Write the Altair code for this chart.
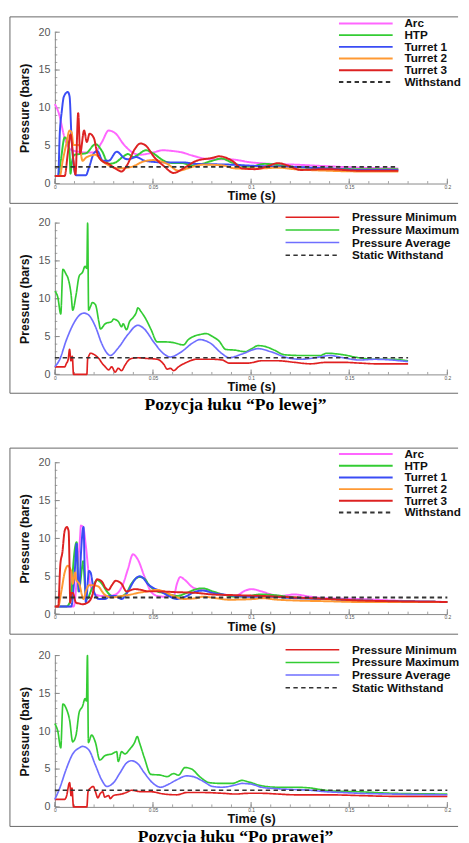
import altair as alt
import pandas as pd

FONT = "Liberation Sans"
W, H = 402, 155

# ---------------- axis tick values ----------------
X_MAJOR = [0, 0.05, 0.1, 0.15, 0.2]
X_MINOR = [i / 100 for i in range(21)]
Y_MAJOR = [0, 5, 10, 15, 20]
Y_MINOR = list(range(21))

# ---------------- legend names / colours ----------------
NAMES_A = ["Arc", "HTP", "Turret 1", "Turret 2", "Turret 3", "Withstand"]
COLORS_A = ["#ff66ff", "#33cc33", "#3a4cf5", "#ff9933", "#dd2222", "#333333"]
NAMES_B = ["Pressure Minimum", "Pressure Maximum", "Pressure Average", "Static Withstand"]
COLORS_B = ["#e02020", "#33cc33", "#6f6fff", "#333333"]
WITHSTAND = 2.2

CAPTION_1 = "Pozycja łuku “Po lewej”"
CAPTION_2 = "Pozycja łuku “Po prawej”"

# ---------------- panel 1 (left arc, locations) ----------------
p1_arc_t = [0, .002, .005, .008, .012, .016, .02, .024, .0274, .031, .035, .039, .043, .05, .055, .06, .065, .07, .08, .089, .1, .11, .122, .138, .155, .175]
p1_arc_v = [10.5, 9.3, 6.0, 4.5, 4.2, 4.1, 4.1, 5.5, 7.0, 6.6, 5.2, 4.2, 3.8, 4.1, 4.4, 4.3, 4.1, 3.7, 3.2, 3.2, 2.8, 2.6, 2.5, 2.3, 2.1, 2.0]
p1_htp_t = [0, .0017, .003, .005, .0066, .0075, .008, .0085, .01, .0124, .0158, .0207, .024, .0274, .031, .035, .0373, .04, .0423, .0464, .05, .0556, .06, .065, .07, .075, .08, .085, .09, .0987, .107, .115, .122, .138, .155, .175]
p1_htp_v = [1.0, 1.0, 3.0, 6.1, 5.5, 4.0, 1.3, 2.5, 3.8, 3.9, 4.0, 5.2, 4.3, 2.6, 2.8, 3.6, 3.9, 3.5, 3.8, 4.4, 4.0, 3.0, 2.7, 2.7, 2.4, 2.6, 3.0, 3.3, 2.8, 2.2, 2.6, 2.4, 2.2, 2.0, 1.9, 1.9]
p1_t1_t = [0, .0017, .0025, .0035, .0046, .0066, .0075, .0085, .0108, .0158, .0175, .0199, .0216, .0245, .0274, .0315, .0357, .0373, .0415, .046, .0556, .065, .072, .089, .1053, .122, .138, .155, .175]
p1_t1_v = [1.0, 1.0, 6.6, 9.5, 11.5, 12.1, 11.5, 6.0, 1.1, 1.1, 2.2, 4.0, 4.3, 3.0, 3.0, 4.2, 3.3, 3.2, 3.5, 3.0, 2.8, 2.8, 2.6, 2.5, 2.3, 2.2, 2.0, 1.8, 1.8]
p1_t2_t = [0, .0025, .004, .0058, .0075, .0085, .0095, .0124, .0141, .0158, .0182, .0207, .024, .029, .0323, .039, .045, .05, .0572, .063, .0688, .0755, .0854, .092, .1053, .1136, .1219, .1385, .155, .175]
p1_t2_v = [1.0, 1.0, 3.0, 5.2, 7.0, 6.8, 5.1, 5.1, 3.0, 3.4, 3.7, 3.8, 3.0, 2.2, 2.0, 2.2, 2.9, 3.1, 2.6, 1.7, 2.1, 2.5, 2.4, 2.0, 2.0, 2.1, 1.9, 1.7, 1.6, 1.6]
p1_t3_t = [0, .005, .0066, .008, .0095, .0105, .0119, .0129, .0149, .0163, .0177, .0199, .0216, .024, .0274, .0307, .034, .0365, .0406, .0436, .0464, .0506, .0556, .0605, .0655, .0721, .0804, .0837, .0904, .0954, .102, .1086, .1136, .1186, .1252, .1385, .155, .175]
p1_t3_v = [1.0, 1.0, 4.0, 6.5, 3.0, 1.2, 9.3, 4.0, 7.0, 5.5, 6.6, 6.0, 4.0, 3.0, 2.6, 2.0, 1.6, 2.3, 4.5, 5.3, 5.0, 3.5, 2.3, 1.4, 2.0, 3.0, 3.4, 3.6, 3.0, 2.0, 1.9, 2.3, 2.7, 2.4, 1.8, 1.9, 1.7, 1.7]
p1_ws_t = [0, .175]

# ---------------- panel 2 (left arc, summary) ----------------
p2_max_t = [0, .0015, .003, .0041, .0058, .0066, .0083, .0091, .0108, .0124, .0141, .0154, .0163, .0167, .0172, .0182, .0191, .0207, .0224, .0232, .0257, .029, .0299, .0323, .034, .0348, .0365, .0381, .0398, .0415, .0423, .0439, .0464, .0489, .0522, .0556, .0605, .0655, .068, .0705, .0746, .0771, .0804, .0837, .0871, .092, .097, .1003, .1036, .107, .1119, .1169, .1252, .1352, .1385, .1468, .1551, .1633, .1716, .18]
p2_max_v = [11.0, 10.2, 8.0, 13.9, 13.2, 12.8, 10.5, 8.5, 10.5, 13.0, 13.5, 14.3, 14.0, 20.0, 8.5, 9.0, 9.5, 9.2, 7.0, 6.0, 6.7, 7.0, 7.3, 7.0, 6.3, 6.7, 5.9, 7.0, 7.5, 8.2, 8.8, 8.3, 7.3, 6.0, 4.3, 4.3, 4.2, 3.9, 4.6, 5.0, 5.3, 5.4, 5.0, 4.4, 3.3, 3.2, 3.0, 3.4, 3.8, 3.7, 3.2, 2.6, 2.5, 2.5, 2.8, 2.6, 2.2, 2.0, 2.0, 1.8]
p2_avg_t = [0, .0025, .0058, .0091, .0124, .0149, .0174, .0207, .024, .0274, .0282, .0323, .0373, .0423, .0456, .0506, .0556, .0589, .064, .0705, .0738, .0788, .0854, .0887, .0954, .1036, .11, .1186, .125, .135, .14, .147, .155, .163, .18]
p2_avg_v = [1.0, 2.0, 4.5, 6.5, 7.8, 8.1, 7.8, 6.3, 4.0, 2.6, 2.5, 3.5, 5.3, 6.5, 6.0, 4.2, 2.7, 2.3, 2.9, 4.2, 4.6, 4.2, 2.7, 2.2, 2.7, 3.4, 3.0, 2.2, 2.0, 2.3, 2.5, 2.2, 1.9, 2.0, 1.7]
p2_min_t = [0, .005, .0058, .0068, .0075, .0082, .0089, .0095, .0163, .0167, .0174, .0182, .0207, .0224, .024, .0257, .0274, .029, .0307, .0323, .034, .0357, .0373, .039, .0423, .0473, .0522, .0556, .0572, .0589, .0605, .063, .0672, .0721, .0804, .0854, .0887, .0987, .1053, .1136, .1219, .1302, .1385, .1468, .1551, .1633, .18]
p2_min_v = [1.0, 1.0, 1.4, 2.0, 3.3, 1.8, 2.4, 0.0, 0.0, 2.0, 2.5, 2.8, 2.5, 2.1, 1.5, 1.0, 0.6, 1.0, 0.3, 0.8, 0.5, 1.2, 1.8, 2.1, 2.2, 2.1, 2.0, 1.3, 0.7, 0.8, 0.5, 1.0, 1.6, 2.0, 2.0, 1.9, 1.5, 1.5, 1.8, 1.8, 1.6, 1.4, 1.6, 1.6, 1.5, 1.4, 1.4]
p2_ws_t = [0, .18]

# ---------------- panel 3 (right arc, locations) ----------------
p3_arc_t = [0, .0096, .0113, .0128, .0133, .0144, .0158, .0174, .0191, .0207, .024, .0274, .031, .0348, .0373, .0398, .0423, .0456, .0489, .0522, .0556, .0589, .0605, .0622, .0639, .0663, .0705, .0755, .0821, .0887, .092, .097, .1003, .1053, .1103, .1153, .1186, .1219, .1302, .1385, .155, .1716, .2]
p3_arc_v = [1.0, 1.0, 5.0, 10.0, 11.7, 11.5, 9.0, 5.0, 3.0, 2.6, 2.4, 2.4, 2.6, 4.0, 6.0, 7.9, 7.2, 5.0, 3.0, 2.4, 2.3, 2.5, 2.3, 4.0, 4.9, 4.5, 3.5, 3.2, 2.8, 2.5, 2.4, 3.1, 3.3, 3.0, 2.6, 2.4, 2.5, 2.6, 2.3, 2.1, 2.0, 1.8, 1.6]
p3_htp_t = [0, .0058, .0083, .0091, .0111, .0121, .0141, .0144, .0154, .0163, .0191, .0216, .024, .0265, .029, .0332, .0365, .039, .0431, .0456, .0481, .0522, .0556, .0622, .0672, .0721, .0755, .0804, .0871, .092, .0987, .1053, .1119, .1219, .1385, .155, .1716, .2]
p3_htp_v = [1.0, 1.0, 2.0, 5.5, 9.5, 3.0, 6.6, 7.0, 3.5, 2.0, 3.5, 4.5, 4.0, 3.0, 2.4, 2.3, 2.8, 4.0, 4.9, 4.7, 3.8, 3.0, 2.8, 2.4, 2.8, 3.3, 3.4, 3.0, 2.5, 2.3, 2.4, 2.6, 2.5, 2.2, 2.0, 1.8, 1.7, 1.6]
p3_t1_t = [0, .0083, .01, .0111, .0116, .0124, .0133, .0146, .0152, .0158, .0174, .0182, .0199, .0224, .0257, .0282, .0307, .034, .0373, .0406, .0431, .0448, .0473, .0539, .0572, .0622, .0655, .0721, .0755, .0804, .0887, .0987, .1086, .1219, .1385, .155, .1716, .2]
p3_t1_v = [1.0, 1.0, 5.0, 9.3, 6.0, 3.0, 8.0, 11.5, 6.0, 1.5, 5.7, 5.5, 3.0, 2.0, 2.0, 2.4, 2.4, 2.0, 3.0, 4.5, 5.0, 4.8, 4.0, 3.0, 2.5, 2.0, 2.2, 3.0, 3.1, 2.8, 2.5, 2.3, 2.3, 2.1, 2.0, 1.8, 1.7, 1.6]
p3_t2_t = [0, .0017, .0033, .005, .0066, .0078, .0085, .0091, .0104, .0108, .0124, .0146, .0158, .0174, .0199, .0224, .024, .0257, .029, .034, .039, .0423, .0473, .0522, .0556, .0605, .0655, .0721, .0755, .0821, .0887, .102, .1053, .1136, .1219, .1385, .155, .2]
p3_t2_v = [1.0, 1.0, 3.0, 5.5, 6.4, 6.0, 5.5, 4.0, 5.5, 4.6, 4.0, 2.0, 3.0, 3.8, 3.8, 3.6, 3.0, 2.5, 2.2, 2.4, 2.6, 2.8, 3.0, 3.2, 3.0, 2.4, 2.0, 2.1, 2.3, 2.1, 1.9, 2.0, 2.1, 1.9, 1.8, 1.7, 1.6, 1.6]
p3_t3_t = [0, .0017, .0028, .0038, .005, .0061, .007, .0075, .0078, .0083, .0091, .0108, .0124, .0141, .0166, .0191, .0204, .0216, .024, .0257, .0274, .029, .031, .034, .0365, .0406, .044, .0473, .0522, .062, .072, .08, .092, .1053, .1219, .1385, .155, .1716, .2]
p3_t3_v = [1.0, 1.0, 6.6, 8.1, 11.0, 11.5, 11.0, 6.0, 1.5, 2.8, 2.8, 1.5, 1.4, 1.3, 1.5, 2.5, 4.0, 4.6, 4.3, 3.5, 3.2, 3.8, 4.4, 4.0, 3.0, 3.3, 3.2, 3.0, 3.0, 2.9, 2.8, 2.6, 2.5, 2.4, 2.2, 2.0, 1.8, 1.7, 1.6]
p3_ws_t = [0, .2]

# ---------------- panel 4 (right arc, summary) ----------------
p4_max_t = [0, .0015, .003, .0041, .0058, .0075, .0091, .0108, .0124, .0141, .0154, .0161, .0166, .0171, .0187, .0207, .0229, .0257, .029, .0315, .0323, .034, .0357, .0381, .0406, .042, .0431, .0456, .0489, .0539, .0572, .0605, .063, .0663, .0697, .0738, .0788, .0854, .0904, .0954, .0987, .1053, .1136, .1219, .1302, .1352, .1418, .1551, .1716, .2]
p4_max_v = [11.0, 10.0, 7.8, 13.6, 13.0, 11.5, 8.6, 9.5, 12.5, 13.3, 14.3, 14.0, 20.0, 8.5, 9.5, 8.5, 6.2, 6.8, 7.0, 7.3, 6.0, 7.3, 7.0, 7.6, 8.5, 9.3, 8.5, 6.5, 4.3, 4.2, 4.0, 4.4, 4.2, 5.2, 5.0, 4.0, 3.2, 3.1, 3.1, 3.5, 3.3, 2.8, 2.6, 2.6, 2.5, 2.3, 2.1, 2.0, 1.8, 1.7]
p4_avg_t = [0, .0025, .0058, .0091, .0124, .0141, .0174, .0207, .024, .0265, .0299, .0332, .0365, .039, .0423, .0456, .0506, .0539, .0572, .0622, .0672, .0705, .0755, .0804, .0854, .092, .0954, .1003, .1053, .1136, .1219, .1302, .1385, .1468, .1551, .1716, .2]
p4_avg_v = [1.0, 2.5, 5.0, 7.0, 7.8, 8.0, 7.5, 5.5, 3.5, 2.7, 3.2, 4.5, 5.8, 6.1, 5.7, 4.5, 3.0, 2.6, 2.9, 3.6, 4.1, 4.0, 3.4, 2.7, 2.6, 2.9, 3.1, 3.0, 2.6, 2.4, 2.3, 2.2, 2.0, 1.9, 1.8, 1.7, 1.6]
p4_min_t = [0, .005, .0058, .0075, .0083, .0087, .0095, .0163, .0169, .0182, .0196, .0207, .0219, .0232, .0244, .0254, .0274, .0282, .0299, .034, .0373, .039, .044, .0489, .0556, .0622, .0672, .0755, .0854, .092, .0987, .1053, .1136, .1219, .1385, .1551, .1716, .2]
p4_min_v = [1.0, 1.0, 1.3, 3.2, 1.5, 2.5, 0.0, 0.0, 2.0, 2.5, 2.7, 2.0, 1.2, 1.8, 2.0, 1.3, 1.5, 1.1, 1.5, 1.7, 2.0, 2.2, 2.0, 2.0, 1.7, 1.6, 1.9, 1.9, 1.8, 1.7, 1.8, 1.8, 1.7, 1.6, 1.6, 1.5, 1.4, 1.4]
p4_ws_t = [0, .2]


def long_df(series):
    rows = []
    for name, ts, vs in series:
        for t, v in zip(ts, vs):
            rows.append({"t": t, "p": v, "s": name})
    return pd.DataFrame(rows)


xscale = alt.Scale(domain=[0, 0.2], nice=False, zero=False)
yscale = alt.Scale(domain=[0, 20], nice=False, zero=False)

xaxis = alt.Axis(values=X_MAJOR, format="~g", ticks=False, tickSize=0, grid=False,
                 domainColor="#888888", domainWidth=1, labelFont=FONT, labelFontSize=5,
                 labelColor="#555555", labelPadding=1, labelFlush=False,
                 title="Time (s)", titleFont=FONT, titleFontSize=13, titleFontWeight="bold",
                 titleColor="#111111", titleY=12.5, titleBaseline="middle")
yaxis = alt.Axis(values=Y_MAJOR, ticks=False, tickSize=0, grid=False,
                 domainColor="#888888", domainWidth=1, labelFont=FONT, labelFontSize=11,
                 labelColor="#555555", labelPadding=5,
                 title="Pressure (bars)", titleFont=FONT, titleFontSize=12.5,
                 titleFontWeight="bold", titleColor="#111111", titleX=-31.5,
                 titleBaseline="middle")

X = alt.X("t:Q", scale=xscale, axis=xaxis)
Y = alt.Y("p:Q", scale=yscale, axis=yaxis)


def vrule(x, y1, y2):
    return alt.Chart(pd.DataFrame({"a": [0]})).mark_rule(color="#666666", strokeWidth=1).encode(
        x=alt.value(x), x2=alt.value(x), y=alt.value(y1), y2=alt.value(y2))


def hrule(y, x1, x2):
    return alt.Chart(pd.DataFrame({"a": [0]})).mark_rule(color="#666666", strokeWidth=1).encode(
        x=alt.value(x1), x2=alt.value(x2), y=alt.value(y), y2=alt.value(y))


def tick_layers():
    col = "#888888"
    ym = alt.Chart(pd.DataFrame({"p": Y_MINOR})).mark_rule(color=col, strokeWidth=0.8).encode(
        y=Y, x=alt.value(0), x2=alt.value(2.5))
    yM = alt.Chart(pd.DataFrame({"p": Y_MAJOR})).mark_rule(color=col, strokeWidth=1).encode(
        y=Y, x=alt.value(0), x2=alt.value(5))
    xm = alt.Chart(pd.DataFrame({"t": X_MINOR})).mark_rule(color=col, strokeWidth=0.8).encode(
        x=X, y=alt.value(H), y2=alt.value(H - 2.5))
    xM = alt.Chart(pd.DataFrame({"t": X_MAJOR})).mark_rule(color=col, strokeWidth=1).encode(
        x=X, y=alt.value(H), y2=alt.value(H - 5))
    return [ym, yM, xm, xM]


def panel(series, names, colors, sw, leg, rules, caption=None, cap_y=None):
    df = long_df(series)
    dashes = [[1, 0]] * (len(names) - 1) + [[4.5, 3.5]]
    legend = alt.Legend(orient="none", legendX=leg["x"], legendY=leg["y"], title=None,
                        symbolType="stroke", symbolSize=3025, symbolStrokeWidth=leg["sw"],
                        clipHeight=leg["h"], rowPadding=leg["rp"], padding=0,
                        labelOffset=leg["off"], labelFont=FONT, labelFontSize=leg["fs"],
                        labelFontWeight="bold", labelColor="#111111", labelLimit=300,
                        labelBaseline="middle")
    lines = alt.Chart(df).mark_line(strokeWidth=sw, interpolate="monotone").encode(
        x=X, y=Y,
        color=alt.Color("s:N", scale=alt.Scale(domain=names, range=colors), legend=legend),
        strokeDash=alt.StrokeDash("s:N", scale=alt.Scale(domain=names, range=dashes), legend=legend),
    )
    layers = tick_layers() + [lines] + rules
    if caption is not None:
        cap = alt.Chart(pd.DataFrame({"c": [caption]})).mark_text(
            font="Liberation Serif", fontSize=18, fontWeight="bold", color="#000000",
            align="center", baseline="middle").encode(
            x=alt.value(185), y=alt.value(cap_y), text="c:N")
        layers.append(cap)
    return alt.layer(*layers).properties(width=W, height=H)


LEFT = -46
RIGHT = 413

leg_a = {"x": 290, "y": -14.8, "h": 11.6, "rp": -1.4, "off": 11, "fs": 12, "sw": 2}
leg_b = {"x": 235.3, "y": -12.5, "h": 13, "rp": 0, "off": 12, "fs": 12, "sw": 1.5}

p1 = panel([(NAMES_A[0], p1_arc_t, p1_arc_v), (NAMES_A[1], p1_htp_t, p1_htp_v),
            (NAMES_A[2], p1_t1_t, p1_t1_v), (NAMES_A[3], p1_t2_t, p1_t2_v),
            (NAMES_A[4], p1_t3_t, p1_t3_v), (NAMES_A[5], p1_ws_t, [WITHSTAND] * 2)],
           NAMES_A, COLORS_A, 2, leg_a,
           [vrule(LEFT, -15.7, 175.3), hrule(-15.7, LEFT, RIGHT), hrule(175.3, LEFT, RIGHT)])

p2 = panel([(NAMES_B[0], p2_min_t, p2_min_v), (NAMES_B[1], p2_max_t, p2_max_v),
            (NAMES_B[2], p2_avg_t, p2_avg_v), (NAMES_B[3], p2_ws_t, [WITHSTAND] * 2)],
           NAMES_B, COLORS_B, 1.7, leg_b,
           [vrule(LEFT, -16, 174.3), hrule(174.3, LEFT, RIGHT)],
           caption=CAPTION_1, cap_y=186)

p3 = panel([(NAMES_A[0], p3_arc_t, p3_arc_v), (NAMES_A[1], p3_htp_t, p3_htp_v),
            (NAMES_A[2], p3_t1_t, p3_t1_v), (NAMES_A[3], p3_t2_t, p3_t2_v),
            (NAMES_A[4], p3_t3_t, p3_t3_v), (NAMES_A[5], p3_ws_t, [WITHSTAND] * 2)],
           NAMES_A, COLORS_A, 2, leg_a,
           [vrule(LEFT, -15, 175.6), hrule(-15, LEFT, RIGHT), hrule(175.6, LEFT, RIGHT)])

p4 = panel([(NAMES_B[0], p4_min_t, p4_min_v), (NAMES_B[1], p4_max_t, p4_max_v),
            (NAMES_B[2], p4_avg_t, p4_avg_v), (NAMES_B[3], p4_ws_t, [WITHSTAND] * 2)],
           NAMES_B, COLORS_B, 1.7, leg_b,
           [vrule(LEFT, -16.7, 175), hrule(175, LEFT, RIGHT)],
           caption=CAPTION_2, cap_y=186.4)

top = alt.vconcat(p1, p2, spacing=2.5).resolve_scale(color="independent", strokeDash="independent").resolve_legend(color="independent", strokeDash="independent")
bottom = alt.vconcat(p3, p4, spacing=2.5).resolve_scale(color="independent", strokeDash="independent").resolve_legend(color="independent", strokeDash="independent")

chart = alt.vconcat(top, bottom, spacing=34).resolve_scale(
    color="independent", strokeDash="independent").resolve_legend(
    color="independent", strokeDash="independent").properties(
    padding={"left": 1, "top": -2.5, "right": 0, "bottom": 0}
).configure_view(stroke=None)

chart.save("out.html", embed_options={"renderer": "svg", "actions": False})
